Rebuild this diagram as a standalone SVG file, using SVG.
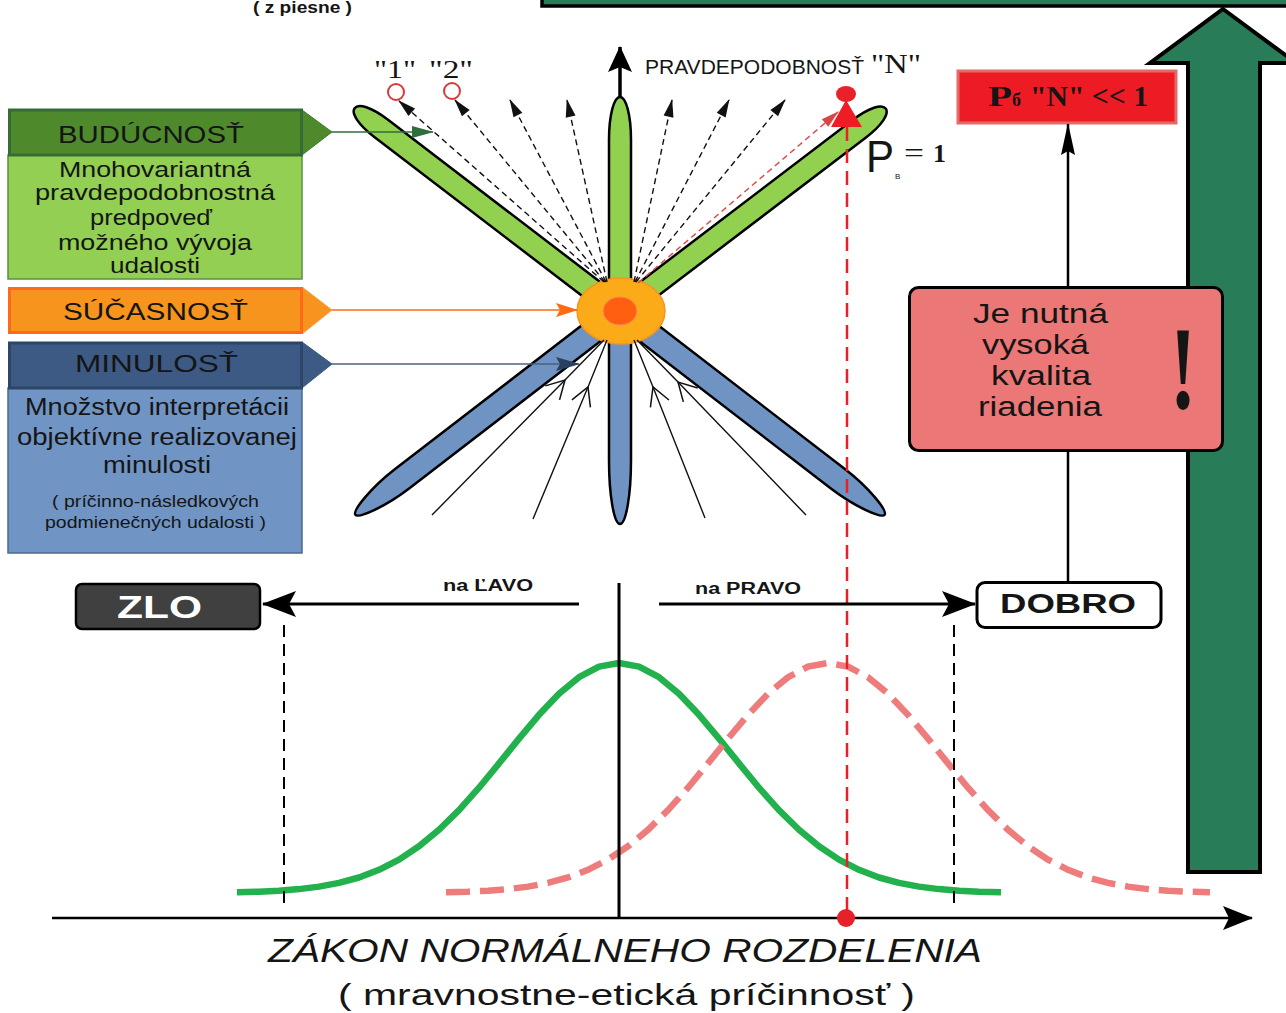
<svg xmlns="http://www.w3.org/2000/svg" width="1286" height="1013" viewBox="0 0 1286 1013">
<style>
.sans{font-family:"Liberation Sans",Arial,sans-serif;fill:#151515}
.serif{font-family:"Liberation Serif","Times New Roman",serif;fill:#151515}
.b{font-weight:bold}
.petal{stroke:#000;stroke-width:2.5}
.pg{fill:#92d050}
.pb{fill:#6f93c3}
.dash{fill:none;stroke:#111;stroke-width:1.4;stroke-dasharray:6 4}
.past{fill:none;stroke:#111;stroke-width:1.4}
.ln{fill:none;stroke:#000}
</style>
<defs>
<marker id="mBlk" markerUnits="userSpaceOnUse" markerWidth="18" markerHeight="10" refX="17" refY="5" orient="auto" overflow="visible"><path d="M0,0 L18,5 L0,10 z" fill="#111"/></marker>
<marker id="mRed" markerUnits="userSpaceOnUse" markerWidth="18" markerHeight="10" refX="17" refY="5" orient="auto" overflow="visible"><path d="M0,0 L18,5 L0,10 z" fill="#d94545"/></marker>
<marker id="mGrn" markerUnits="userSpaceOnUse" markerWidth="22" markerHeight="12" refX="21" refY="6" orient="auto" overflow="visible"><path d="M0,0 L22,6 L0,12 z" fill="#2f6e3c"/></marker>
<marker id="mOrg" markerUnits="userSpaceOnUse" markerWidth="22" markerHeight="14" refX="21" refY="7" orient="auto" overflow="visible"><path d="M0,0 L22,7 L0,14 L4,7 z" fill="#ff6a13"/></marker>
<marker id="mNav" markerUnits="userSpaceOnUse" markerWidth="24" markerHeight="14" refX="23" refY="7" orient="auto" overflow="visible"><path d="M0,0 L24,7 L0,14 L4,7 z" fill="#2b3f5e"/></marker>
<marker id="mOpen" markerUnits="userSpaceOnUse" markerWidth="22" markerHeight="22" refX="20" refY="10" orient="auto" overflow="visible"><path d="M2,0 L20,10 L2,20" fill="none" stroke="#111" stroke-width="1.5"/></marker>
<marker id="mSt" markerUnits="userSpaceOnUse" markerWidth="34" markerHeight="26" refX="33" refY="13" orient="auto" overflow="visible"><path d="M0,0 L34,13 L0,26 L7,13 z" fill="#000"/></marker>
<marker id="mAx" markerUnits="userSpaceOnUse" markerWidth="30" markerHeight="24" refX="29" refY="12" orient="auto" overflow="visible"><path d="M0,0 L30,12 L0,24 L6,12 z" fill="#000"/></marker>
<marker id="mUp" markerUnits="userSpaceOnUse" markerWidth="26" markerHeight="24" refX="25" refY="12" orient="auto" overflow="visible"><path d="M0,0 L26,12 L0,24 L5,12 z" fill="#000"/></marker>
<marker id="mNar" markerUnits="userSpaceOnUse" markerWidth="32" markerHeight="14" refX="31" refY="7" orient="auto" overflow="visible"><path d="M0,0 L32,7 L0,14 L4,7 z" fill="#000"/></marker>
<path id="bell" d="M-382,892.3 L-360,891.7 L-340,890.7 L-320,889.1 L-300,886.6 L-280,882.9 L-260,877.5 L-240,869.8 L-220,859.6 L-200,846.3 L-180,829.8 L-160,810.1 L-140,787.7 L-120,763.4 L-100,738.6 L-80,714.8 L-60,693.7 L-40,677.2 L-20,666.6 L0,663 L20,666.6 L40,677.2 L60,693.7 L80,714.8 L100,738.6 L120,763.4 L140,787.7 L160,810.1 L180,829.8 L200,846.3 L220,859.6 L240,869.8 L260,877.5 L280,882.9 L300,886.6 L320,889.1 L340,890.7 L360,891.7 L382,892.3"/>
</defs>
<rect x="0" y="0" width="1286" height="1013" fill="#fff"/>

<g id="title-note">
<text class="sans b" x="253" y="13" font-size="16" textLength="99" lengthAdjust="spacingAndGlyphs" fill="#222">( z piesne )</text>
</g>

<g id="node-bigarrow">
<rect x="542" y="-10" width="760" height="16" fill="#287c58" stroke="#000" stroke-width="3.5"/>
<polygon points="1223,9 1296,63 1260,63 1260,872 1188,872 1188,63 1150,63" fill="#287c58" stroke="#000" stroke-width="4"/>
</g>

<g id="node-buducnost">
<rect x="8" y="155" width="294" height="124" fill="#92cf52" stroke="#5e8f43" stroke-width="1.5"/>
<polygon points="302,110 332,132 302,155" fill="#4e8a2c" stroke="#3c7a33" stroke-width="1"/>
<rect x="9.5" y="110" width="292" height="45" fill="#4e8a2c" stroke="#356b34" stroke-width="3"/>
<text class="sans" x="58" y="143" font-size="24" textLength="186" lengthAdjust="spacingAndGlyphs">BUDÚCNOSŤ</text>
<text class="sans" x="59" y="177" font-size="22" textLength="192" lengthAdjust="spacingAndGlyphs">Mnohovariantná</text>
<text class="sans" x="35" y="200" font-size="22" textLength="240" lengthAdjust="spacingAndGlyphs">pravdepodobnostná</text>
<text class="sans" x="90" y="225" font-size="22" textLength="122" lengthAdjust="spacingAndGlyphs">predpoveď</text>
<text class="sans" x="58" y="250" font-size="22" textLength="194" lengthAdjust="spacingAndGlyphs">možného vývoja</text>
<text class="sans" x="110" y="273" font-size="22" textLength="90" lengthAdjust="spacingAndGlyphs">udalosti</text>
</g>

<g id="node-sucasnost">
<polygon points="302,287 332,310 302,334" fill="#f7941d" stroke="#fba04a" stroke-width="1"/>
<rect x="9.5" y="288.5" width="292" height="44" fill="#f7941d" stroke="#ff6a1a" stroke-width="3"/>
<text class="sans" x="63" y="320" font-size="24" textLength="185" lengthAdjust="spacingAndGlyphs">SÚČASNOSŤ</text>
</g>

<g id="node-minulost">
<rect x="8" y="388" width="294" height="165" fill="#7094c4" stroke="#4a6a94" stroke-width="1.5"/>
<polygon points="302,342 332,364 302,388" fill="#3c5a84" stroke="#3c5a84" stroke-width="1"/>
<rect x="9.5" y="343" width="292" height="45" fill="#3c5a84" stroke="#2d4566" stroke-width="3"/>
<text class="sans" x="75" y="372" font-size="24" textLength="163" lengthAdjust="spacingAndGlyphs">MINULOSŤ</text>
<text class="sans" x="25" y="415" font-size="23" textLength="264" lengthAdjust="spacingAndGlyphs">Množstvo interpretácii</text>
<text class="sans" x="17" y="445" font-size="23" textLength="280" lengthAdjust="spacingAndGlyphs">objektívne realizovanej</text>
<text class="sans" x="103" y="473" font-size="23" textLength="108" lengthAdjust="spacingAndGlyphs">minulosti</text>
<text class="sans" x="52" y="507" font-size="17" textLength="207" lengthAdjust="spacingAndGlyphs">( príčinno-následkových</text>
<text class="sans" x="45" y="528" font-size="17" textLength="221" lengthAdjust="spacingAndGlyphs">podmienečných udalosti )</text>
</g>

<g id="node-star">
<path class="petal pg" transform="translate(620,311) rotate(-52.6)" d="M-11,0 L-11,-300 C-11,-322 -6,-334 0,-334 C6,-334 11,-322 11,-300 L11,0 Z"/>
<path class="petal pg" transform="translate(620,311) rotate(52.7)" d="M-11,0 L-11,-300 C-11,-322 -6,-334 0,-334 C6,-334 11,-322 11,-300 L11,0 Z"/>
<path class="petal pg" d="M609,300 L609,140 C609,115 614,97 620,97 C626,97 631,115 631,140 L631,300 Z"/>
<path class="petal pb" transform="translate(620,311) rotate(-127.6)" d="M-12,0 L-12,-275 C-12,-305 -5,-334 0,-334 C5,-334 12,-305 12,-275 L12,0 Z"/>
<path class="petal pb" transform="translate(620,311) rotate(127.6)" d="M-12,0 L-12,-275 C-12,-305 -5,-334 0,-334 C5,-334 12,-305 12,-275 L12,0 Z"/>
<path class="petal pb" d="M609,320 L609,460 C609,495 614,524 620,524 C626,524 631,495 631,460 L631,320 Z"/>
<ellipse cx="621" cy="311" rx="44" ry="33" fill="#fbab18" stroke="#f7941d" stroke-width="1.5"/>
<ellipse cx="620" cy="311" rx="17" ry="14" fill="#ff5f0f" stroke="#ff8a5a" stroke-width="1"/>
<circle cx="396" cy="92" r="8" fill="#fff" stroke="#d93a3a" stroke-width="2"/>
<circle cx="452" cy="91" r="8" fill="#fff" stroke="#d93a3a" stroke-width="2"/>
<text class="serif" x="374" y="78" font-size="25" textLength="42" lengthAdjust="spacingAndGlyphs">"1"</text>
<text class="serif" x="429" y="78" font-size="25" textLength="44" lengthAdjust="spacingAndGlyphs">"2"</text>
<text class="sans" x="645" y="74" font-size="21" textLength="219" lengthAdjust="spacingAndGlyphs">PRAVDEPODOBNOSŤ</text>
<text class="serif" x="871" y="73" font-size="27" textLength="50" lengthAdjust="spacingAndGlyphs">"N"</text>
<ellipse cx="846" cy="94" rx="10" ry="8" fill="#e8212a"/>
<polygon points="846,100 862,127 831,127" fill="#ee1c25"/>
<text class="sans" x="866" y="172" font-size="44" textLength="28" lengthAdjust="spacingAndGlyphs">P</text>
<text class="sans" x="895" y="179" font-size="8">B</text>
<text class="serif" x="904" y="162" font-size="28" textLength="20" lengthAdjust="spacingAndGlyphs">=</text>
<text class="serif b" x="933" y="162" font-size="26">1</text>
</g>

<g id="node-pn">
<rect x="958" y="71" width="218" height="52" fill="#ed1c24" stroke="#e36a6a" stroke-width="3"/>
<text class="serif b" x="988" y="106" font-size="30" textLength="24" lengthAdjust="spacingAndGlyphs" fill="#111">P</text>
<text class="serif b" x="1012" y="106" font-size="18" fill="#111">б</text>
<text class="serif b" x="1030" y="106" font-size="30" textLength="118" lengthAdjust="spacingAndGlyphs" fill="#111">"N" &lt;&lt; 1</text>
</g>

<g id="node-kvalita">
<rect x="909.5" y="287.5" width="313" height="163" rx="9" fill="#eb7777" stroke="#000" stroke-width="3"/>
<text class="sans" x="973" y="323" font-size="27" textLength="135" lengthAdjust="spacingAndGlyphs">Je nutná</text>
<text class="sans" x="982" y="354" font-size="27" textLength="107" lengthAdjust="spacingAndGlyphs">vysoká</text>
<text class="sans" x="991" y="385" font-size="27" textLength="100" lengthAdjust="spacingAndGlyphs">kvalita</text>
<text class="sans" x="978" y="416" font-size="27" textLength="124" lengthAdjust="spacingAndGlyphs">riadenia</text>
<text class="serif b" transform="translate(1183,408) scale(1,1.47)" text-anchor="middle" font-size="80" fill="#000">!</text>
</g>

<g id="node-zlo">
<rect x="76" y="584" width="184" height="45" rx="6" fill="#404040" stroke="#000" stroke-width="2.5"/>
<text class="sans b" x="117" y="618" font-size="31" textLength="85" lengthAdjust="spacingAndGlyphs" style="fill:#fff">ZLO</text>
</g>

<g id="node-dobro">
<rect x="977" y="582.5" width="184" height="45" rx="8" fill="#fff" stroke="#000" stroke-width="3"/>
<text class="sans b" x="1000" y="613" font-size="27" textLength="136" lengthAdjust="spacingAndGlyphs">DOBRO</text>
</g>

<g id="curves">
<use href="#bell" transform="translate(619,0)" fill="none" stroke="#22b14c" stroke-width="6.5" stroke-linejoin="round"/>
<use href="#bell" transform="translate(828,0)" fill="none" stroke="#ef7c7c" stroke-width="6.5" stroke-dasharray="24 10"/>
</g>

<g id="connectors">
<line class="dash" x1="604" y1="282" x2="399" y2="101" marker-end="url(#mBlk)"/>
<line class="dash" x1="605" y1="282" x2="455" y2="100" marker-end="url(#mBlk)"/>
<line class="dash" x1="606" y1="282" x2="510" y2="100" marker-end="url(#mBlk)"/>
<line class="dash" x1="607" y1="282" x2="567" y2="100" marker-end="url(#mBlk)"/>
<line class="dash" x1="634" y1="282" x2="672" y2="100" marker-end="url(#mBlk)"/>
<line class="dash" x1="635" y1="282" x2="729" y2="100" marker-end="url(#mBlk)"/>
<line class="dash" x1="636" y1="282" x2="785" y2="100" marker-end="url(#mBlk)"/>
<line x1="638" y1="283" x2="838" y2="112" fill="none" stroke="#e04848" stroke-width="1.4" stroke-dasharray="6 4" marker-end="url(#mRed)"/>
<path class="past" d="M432,515 L565,380 L604,340" marker-mid="url(#mOpen)"/>
<path class="past" d="M533,519 L588,387 L607,340" marker-mid="url(#mOpen)"/>
<path class="past" d="M705,518 L653,387 L634,340" marker-mid="url(#mOpen)"/>
<path class="past" d="M806,515 L678,382 L637,340" marker-mid="url(#mOpen)"/>
<line class="ln" x1="620" y1="97" x2="620" y2="47" stroke-width="3.5" marker-end="url(#mUp)"/>
<line x1="332" y1="132" x2="433" y2="132" stroke="#2f6e3c" stroke-width="1.5" marker-end="url(#mGrn)"/>
<line x1="332" y1="310" x2="577" y2="310" stroke="#ff6a13" stroke-width="1.5" marker-end="url(#mOrg)"/>
<line x1="332" y1="364" x2="579" y2="364" stroke="#4a6080" stroke-width="1.5" marker-end="url(#mNav)"/>
<line x1="847" y1="127" x2="847" y2="918" stroke="#e8202a" stroke-width="2.5" stroke-dasharray="14 8"/>
<line class="ln" x1="1068" y1="287" x2="1068" y2="124" stroke-width="2.5" marker-end="url(#mNar)"/>
<line class="ln" x1="1068" y1="452" x2="1068" y2="582" stroke-width="2.5"/>
<line class="ln" x1="579" y1="604" x2="263" y2="604" stroke-width="3" marker-end="url(#mSt)"/>
<line class="ln" x1="659" y1="604" x2="975" y2="604" stroke-width="3" marker-end="url(#mSt)"/>
<line class="ln" x1="619" y1="583" x2="619" y2="918" stroke-width="3"/>
<line class="ln" x1="284" y1="625" x2="284" y2="910" stroke-width="2" stroke-dasharray="12 7"/>
<line class="ln" x1="954" y1="625" x2="954" y2="910" stroke-width="2" stroke-dasharray="12 7"/>
<line class="ln" x1="52" y1="918" x2="1252" y2="918" stroke-width="2.5" marker-end="url(#mAx)"/>
<ellipse cx="846" cy="918" rx="9" ry="9" fill="#e8202a"/>
<text class="sans b" x="443" y="591" font-size="16" textLength="90" lengthAdjust="spacingAndGlyphs">na ĽAVO</text>
<text class="sans b" x="695" y="594" font-size="16" textLength="106" lengthAdjust="spacingAndGlyphs">na PRAVO</text>
</g>

<g id="axis-labels">
<text class="sans" x="268" y="962" font-size="34" font-style="italic" textLength="714" lengthAdjust="spacingAndGlyphs">ZÁKON NORMÁLNEHO ROZDELENIA</text>
<text class="sans" x="338" y="1005" font-size="30" textLength="577" lengthAdjust="spacingAndGlyphs">( mravnostne-etická príčinnosť )</text>
</g>
</svg>
